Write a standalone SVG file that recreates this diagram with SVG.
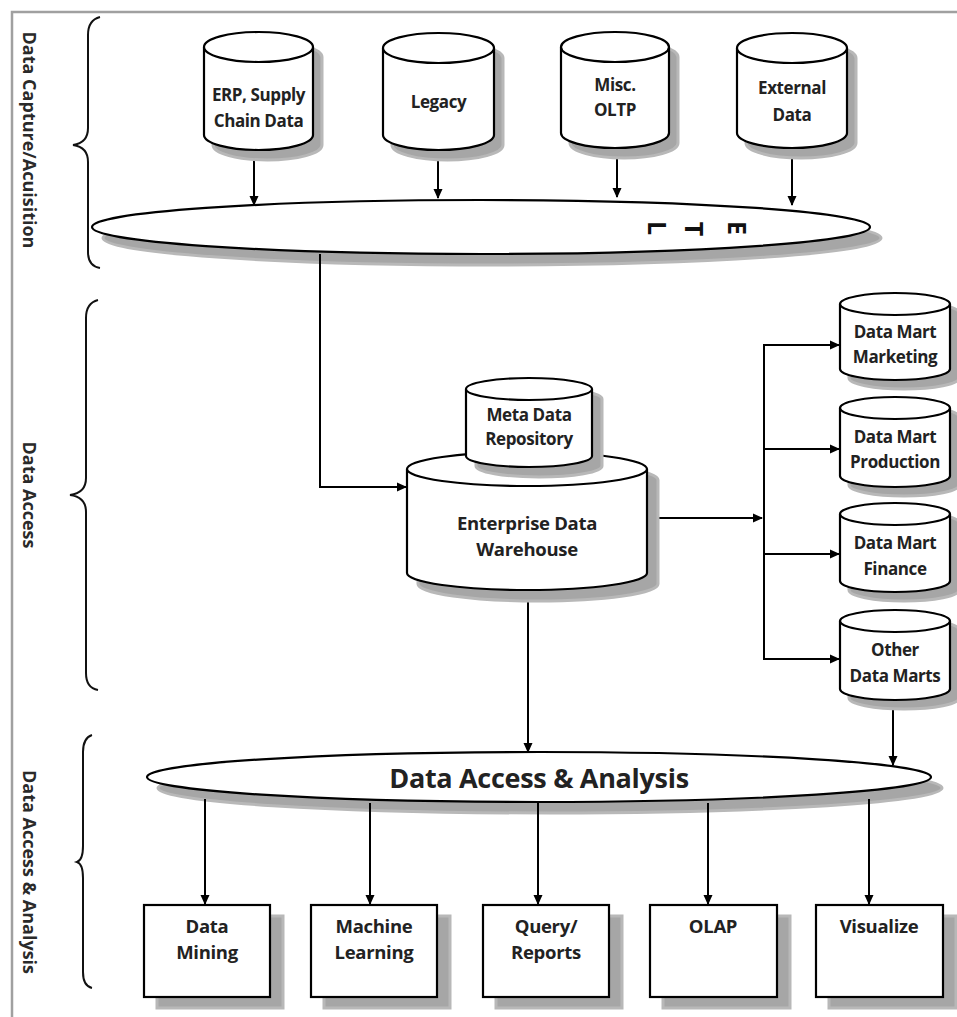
<svg xmlns="http://www.w3.org/2000/svg" width="957" height="1017" viewBox="0 0 957 1017">
<defs>
<marker id="ah" markerWidth="10" markerHeight="10" refX="9" refY="5" orient="auto" markerUnits="userSpaceOnUse">
<path d="M0,0.5 L10,5 L0,9.5 Z" fill="#000"/>
</marker>
</defs>
<style>
.shape{fill:#fff;stroke:#000;stroke-width:2.2}
.shd{fill:#a6a6a6;stroke:#b8b8b8;stroke-width:3}
.t{font-family:"Open Sans","Noto Sans",sans-serif;font-weight:bold;fill:#222;text-anchor:middle;font-size:17px;letter-spacing:-0.4px}
.b{font-size:18.5px;letter-spacing:-0.3px}
.side{font-family:"Open Sans","Noto Sans",sans-serif;font-weight:bold;fill:#2a2a2a;text-anchor:middle;font-size:18px}
.etl{font-family:"Open Sans","Noto Sans",sans-serif;font-weight:bold;fill:#111;text-anchor:middle;font-size:25px}
.c{fill:none;stroke:#000;stroke-width:2;marker-end:url(#ah)}
.ln{fill:none;stroke:#000;stroke-width:2}
.br{fill:none;stroke:#111;stroke-width:2}
</style>
<rect width="957" height="1017" fill="#fff"/>
<path d="M12,1017 V12 H957" fill="none" stroke="#a0a0a0" stroke-width="2.5"/>

<g id="labels">
<text class="side" transform="translate(30,140) rotate(90)" dominant-baseline="central">Data Capture/Acuisition</text>
<text class="side" transform="translate(30,495) rotate(90)" dominant-baseline="central">Data Access</text>
<text class="side" transform="translate(30,872) rotate(90)" dominant-baseline="central">Data Access &amp; Analysis</text>
</g>
<g id="braces">
<path class="br" d="M100,17 Q88,20 88,35 V128 Q88,143 73,145 Q88,147 88,162 V252 Q88,266 100,268"/>
<path class="br" d="M98,300 Q86,303 86,318 V478 Q86,493 70,495 Q86,497 86,512 V673 Q86,688 98,690"/>
<path class="br" d="M92,735 Q83,738 83,752 V846 Q83,860 77,862 Q83,864 83,878 V972 Q83,986 92,988"/>
</g>

<g id="etl">
<ellipse class="shd" cx="492" cy="238" rx="389" ry="27"/>
<ellipse class="shape" cx="481" cy="227" rx="389" ry="27"/>
<text class="etl" transform="translate(658,228) rotate(90)" dominant-baseline="central">L</text>
<text class="etl" transform="translate(695,229) rotate(90)" dominant-baseline="central">T</text>
<text class="etl" transform="translate(738,228) rotate(90)" dominant-baseline="central">E</text>
</g>

<g id="analysis">
<ellipse class="shd" cx="550" cy="788" rx="392" ry="25"/>
<ellipse class="shape" cx="539" cy="777" rx="392" ry="25"/>
<text class="t" style="font-size:27px;letter-spacing:-0.3px" x="539" y="788">Data Access &amp; Analysis</text>
</g>

<g id="connectors">
<line class="c" x1="254" y1="150" x2="254" y2="205"/>
<line class="c" x1="438" y1="150" x2="438" y2="198"/>
<line class="c" x1="617" y1="148" x2="617" y2="197"/>
<line class="c" x1="792" y1="148" x2="792" y2="205"/>
<polyline class="c" points="320,254 320,487 406,487"/>
<line class="c" x1="647" y1="518" x2="762" y2="518"/>
<line class="ln" x1="764" y1="344" x2="764" y2="660"/>
<line class="c" x1="763" y1="345" x2="839" y2="345"/>
<line class="c" x1="763" y1="449" x2="839" y2="449"/>
<line class="c" x1="763" y1="554" x2="839" y2="554"/>
<line class="c" x1="763" y1="659" x2="839" y2="659"/>
<line class="c" x1="528" y1="590" x2="528" y2="752"/>
<line class="c" x1="893" y1="700" x2="893" y2="765"/>
<line class="c" x1="205" y1="799" x2="205" y2="904"/>
<line class="c" x1="370" y1="803" x2="370" y2="904"/>
<line class="c" x1="538" y1="803" x2="538" y2="904"/>
<line class="c" x1="708" y1="803" x2="708" y2="904"/>
<line class="c" x1="869" y1="799" x2="869" y2="904"/>
</g>

<g id="erp">
<path class="shd" transform="translate(9,10)" d="M204,47 A54.5,15 0 0 1 313,47 V135 A54.5,15 0 0 1 204,135 Z"/>
<path class="shape" d="M204,47 A54.5,15 0 0 1 313,47 V135 A54.5,15 0 0 1 204,135 Z"/>
<path class="shape" d="M204,47 A54.5,15 0 0 0 313,47"/>
<text class="t" x="258.5" y="101">ERP, Supply</text>
<text class="t" x="258.5" y="127">Chain Data</text>
</g>
<g id="legacy">
<path class="shd" transform="translate(9,10)" d="M383,48 A55.5,15 0 0 1 494,48 V135 A55.5,15 0 0 1 383,135 Z"/>
<path class="shape" d="M383,48 A55.5,15 0 0 1 494,48 V135 A55.5,15 0 0 1 383,135 Z"/>
<path class="shape" d="M383,48 A55.5,15 0 0 0 494,48"/>
<text class="t" x="438.5" y="108">Legacy</text>
</g>
<g id="misc">
<path class="shd" transform="translate(9,10)" d="M561,47 A54,15 0 0 1 669,47 V133 A54,15 0 0 1 561,133 Z"/>
<path class="shape" d="M561,47 A54,15 0 0 1 669,47 V133 A54,15 0 0 1 561,133 Z"/>
<path class="shape" d="M561,47 A54,15 0 0 0 669,47"/>
<text class="t" x="615" y="91">Misc.</text>
<text class="t" x="615" y="116">OLTP</text>
</g>
<g id="external">
<path class="shd" transform="translate(9,10)" d="M737,48 A55,15 0 0 1 847,48 V133 A55,15 0 0 1 737,133 Z"/>
<path class="shape" d="M737,48 A55,15 0 0 1 847,48 V133 A55,15 0 0 1 737,133 Z"/>
<path class="shape" d="M737,48 A55,15 0 0 0 847,48"/>
<text class="t" x="792" y="94">External</text>
<text class="t" x="792" y="121">Data</text>
</g>

<g id="edw">
<path class="shd" transform="translate(11,11)" d="M407,469 A120,17 0 0 1 647,469 V573 A120,17 0 0 1 407,573 Z"/>
<path class="shape" d="M407,469 A120,17 0 0 1 647,469 V573 A120,17 0 0 1 407,573 Z"/>
<path class="shape" d="M407,469 A120,17 0 0 0 647,469"/>
<text class="t b" x="527" y="530">Enterprise Data</text>
<text class="t b" x="527" y="556">Warehouse</text>
</g>
<g id="meta">
<path class="shd" transform="translate(10,10)" d="M466,389 A63,11 0 0 1 592,389 V456 A63,11 0 0 1 466,456 Z"/>
<path class="shape" d="M466,389 A63,11 0 0 1 592,389 V456 A63,11 0 0 1 466,456 Z"/>
<path class="shape" d="M466,389 A63,11 0 0 0 592,389"/>
<text class="t" x="529" y="421">Meta Data</text>
<text class="t" x="529" y="445">Repository</text>
</g>

<g id="dm-marketing">
<path class="shd" transform="translate(9,9)" d="M840,304 A55,11 0 0 1 950,304 V369 A55,11 0 0 1 840,369 Z"/>
<path class="shape" d="M840,304 A55,11 0 0 1 950,304 V369 A55,11 0 0 1 840,369 Z"/>
<path class="shape" d="M840,304 A55,11 0 0 0 950,304"/>
<text class="t" x="895" y="338">Data Mart</text>
<text class="t" x="895" y="363">Marketing</text>
</g>
<g id="dm-production">
<path class="shd" transform="translate(9,9)" d="M840,408 A55,11 0 0 1 950,408 V476 A55,11 0 0 1 840,476 Z"/>
<path class="shape" d="M840,408 A55,11 0 0 1 950,408 V476 A55,11 0 0 1 840,476 Z"/>
<path class="shape" d="M840,408 A55,11 0 0 0 950,408"/>
<text class="t" x="895" y="443">Data Mart</text>
<text class="t" x="895" y="468">Production</text>
</g>
<g id="dm-finance">
<path class="shd" transform="translate(9,9)" d="M840,514 A55,11 0 0 1 950,514 V581 A55,11 0 0 1 840,581 Z"/>
<path class="shape" d="M840,514 A55,11 0 0 1 950,514 V581 A55,11 0 0 1 840,581 Z"/>
<path class="shape" d="M840,514 A55,11 0 0 0 950,514"/>
<text class="t" x="895" y="549">Data Mart</text>
<text class="t" x="895" y="575">Finance</text>
</g>
<g id="dm-other">
<path class="shd" transform="translate(9,9)" d="M840,621 A55,11 0 0 1 950,621 V689 A55,11 0 0 1 840,689 Z"/>
<path class="shape" d="M840,621 A55,11 0 0 1 950,621 V689 A55,11 0 0 1 840,689 Z"/>
<path class="shape" d="M840,621 A55,11 0 0 0 950,621"/>
<text class="t" x="895" y="656">Other</text>
<text class="t" x="895" y="682">Data Marts</text>
</g>

<g id="mining">
<rect class="shd" x="157" y="916" width="126" height="92"/>
<rect class="shape" x="144" y="905" width="126" height="92"/>
<text class="t b" x="207" y="933">Data</text>
<text class="t b" x="207" y="959">Mining</text>
</g>
<g id="ml">
<rect class="shd" x="324" y="916" width="126" height="92"/>
<rect class="shape" x="311" y="905" width="126" height="92"/>
<text class="t b" x="374" y="933">Machine</text>
<text class="t b" x="374" y="959">Learning</text>
</g>
<g id="query">
<rect class="shd" x="496" y="916" width="126" height="92"/>
<rect class="shape" x="483" y="905" width="126" height="92"/>
<text class="t b" x="546" y="933">Query/</text>
<text class="t b" x="546" y="959">Reports</text>
</g>
<g id="olap">
<rect class="shd" x="663" y="916" width="127" height="92"/>
<rect class="shape" x="650" y="905" width="127" height="92"/>
<text class="t b" x="713" y="933">OLAP</text>
</g>
<g id="visualize">
<rect class="shd" x="829" y="916" width="127" height="92"/>
<rect class="shape" x="816" y="905" width="127" height="92"/>
<text class="t b" x="879" y="933">Visualize</text>
</g>
</svg>
